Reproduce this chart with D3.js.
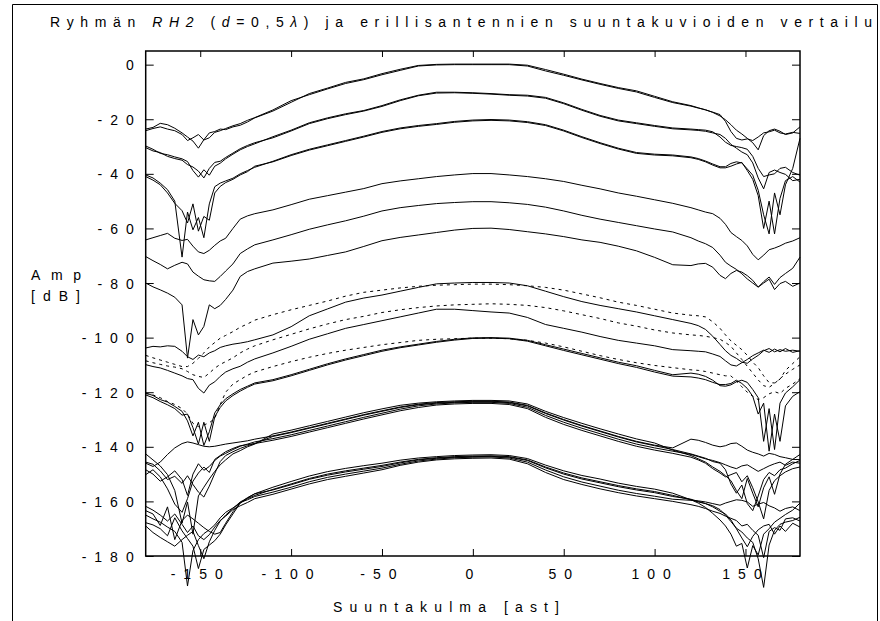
<!DOCTYPE html>
<html>
<head>
<meta charset="utf-8">
<script src="https://cdn.jsdelivr.net/npm/d3@7"></script>
<style>
  html, body { margin: 0; padding: 0; background: #fff; }
  svg { display: block; font-family: "Liberation Sans", Arial, sans-serif; }
</style>
</head>
<body>
<svg id="chart" width="880" height="621"></svg>
<script>
// Measurement angles (degrees), denser near the back lobes where the patterns break up
const angle = [-180,-176,-172,-168,-164,-160,-157,-154,-151,-148,-145,-142,-139,-136,-132,-128,-124,-120,
  -110,-100,-90,-80,-70,-60,-50,-40,-30,-20,-10,0,10,20,30,40,50,60,70,80,90,100,110,
  120,124,128,132,136,139,142,145,148,151,154,157,160,163,166,169,172,176,180];

const xTicks = [-150,-100,-50,0,50,100,150];
const yTicks = [0,-20,-40,-60,-80,-100,-120,-140,-160,-180];

// Amplitude patterns in dB (each offset downwards for readability)
const pattern00a = [-23.6,-23,-21.5,-22,-23.3,-25,-26.5,-28,-30.6,-27.5,-25,-24.5,-23.6,-23.8,-22.8,-22.2,-21,-19.5,
  -17,-13.8,-10.6,-8.6,-6.5,-5.2,-3.3,-1.7,-0.3,0.1,0.2,0.2,0.2,0.2,-0.2,-1.8,-3.5,-5.3,-6.9,-8.4,-9.6,-11.6,-13.6,
  -15,-15.8,-16.6,-17.4,-18.3,-20.8,-24.5,-27,-27.6,-27.2,-27.8,-26.5,-25,-24.6,-24,-25,-25.4,-24.8,-25.2];
const pattern00b = [-24.2,-23.4,-22.8,-23.6,-24.2,-25.6,-27.8,-26.8,-25.6,-27.6,-26.8,-24.8,-24.2,-23.4,-22.4,-21.6,-20.4,-19.4,
  -16.6,-13.2,-11,-8.9,-6.9,-5.5,-3.7,-2.1,-0.5,-0.1,0,0,0,0,-0.5,-2.3,-3.9,-5.6,-7.2,-8.7,-10,-12,-13.9,
  -15.2,-15.9,-16.5,-17.5,-18.8,-20.2,-22,-24,-25.4,-27,-28.6,-31.2,-26,-24.2,-23.6,-24.4,-25.6,-25,-22.8];
const pattern10a = [-29.8,-31,-32.5,-33,-33.8,-34.5,-35.5,-38.8,-41.2,-38.5,-40.5,-37.2,-36.1,-34.5,-32.8,-31.2,-30,-29,
  -26.4,-24,-21.3,-19.5,-18,-16.8,-15,-12.9,-11.2,-10.1,-10.1,-10.3,-10.6,-11,-11.2,-12,-14,-16.4,-18.6,-20.3,-21.3,-22.3,-23.2,
  -23.6,-23.8,-24,-24.6,-26.5,-28.4,-29.6,-30,-30.4,-31,-33.6,-38,-41,-40.4,-40,-38,-37.6,-39.5,-40.5];
const pattern10b = [-30.4,-31.6,-32.2,-33.6,-34.4,-35,-36.6,-37.5,-39,-41.5,-38,-35.8,-35.4,-34,-32.4,-30.8,-29.6,-28.6,
  -26.8,-24.3,-21.6,-19.8,-18.3,-17,-15.3,-13.2,-11.4,-10.4,-10.3,-10.5,-10.8,-11.2,-11.5,-12.3,-14.3,-16.7,-18.9,-20.6,-21.6,-22.6,-23.5,
  -23.9,-24.1,-24.4,-25,-25.6,-27,-29.2,-30.6,-32,-33,-36,-41.5,-45.5,-39.5,-38.6,-39.5,-40.2,-42.5,-42];
const pattern20a = [-40.4,-41.5,-43.4,-45.8,-50,-70.5,-54,-60.5,-56,-63.4,-51,-44.7,-43.4,-42.6,-41.6,-40,-38.8,-37.6,
  -35.4,-33,-31,-29.4,-27.8,-26.2,-24.5,-23.2,-22.3,-21.6,-20.8,-20.3,-20.1,-20.3,-20.9,-22,-24,-26.4,-28.6,-30.6,-32.2,-32.8,-33.1,
  -33.8,-34.4,-35.3,-36.4,-37.4,-37.4,-36.2,-35.6,-36,-38.2,-40.5,-46,-55,-62,-47,-55,-44,-38,-27];
const pattern20b = [-41,-42.3,-44,-47,-50.8,-53.5,-58,-51,-61,-55.6,-57,-47,-44.6,-43.2,-42,-40.4,-39.2,-37.2,
  -35.6,-33.3,-31.3,-29.7,-28.1,-26.5,-24.8,-23.5,-22.6,-21.9,-21.1,-20.6,-20.4,-20.6,-21.2,-22.3,-24.3,-26.7,-28.9,-30.9,-32.5,-33.1,-33.4,
  -34.1,-34.7,-35.6,-36.8,-37.8,-37.8,-37.2,-36.4,-35.8,-38.8,-42,-48,-60,-50,-62,-49,-42.5,-41,-43];
const pattern40 = [-64.2,-63.4,-62.6,-61.8,-63.6,-64.4,-64,-66.5,-68.6,-69.2,-68,-66.2,-64.6,-63.6,-60,-56.6,-55.4,-54.6,
  -53.2,-51.3,-49.3,-48,-46.7,-45.4,-43.6,-42.6,-41.8,-41,-40.4,-39.9,-39.9,-40.4,-41,-41.8,-42.8,-44.2,-45.5,-47,-48.2,-49.5,-50.8,
  -52.4,-53.2,-54,-54.6,-56.3,-58.5,-61.5,-63,-64.4,-66.4,-69.5,-71.5,-69.8,-67.8,-67.2,-66.4,-65.4,-64.6,-63.4];
const pattern50 = [-70.3,-71.8,-73.2,-74.8,-73.5,-72.4,-73,-76,-77.5,-78.8,-79.2,-79.4,-77.6,-75.6,-73,-69.2,-67.5,-66,
  -64.2,-62.3,-60.3,-58.7,-57.2,-55.5,-53.6,-52.4,-51.6,-50.9,-50.5,-50.2,-50.2,-50.6,-51.2,-52.2,-53.6,-55.2,-56.6,-57.8,-59,-60.2,-61.3,
  -63.4,-64.6,-65.6,-67,-69.8,-72.4,-73.8,-75,-76.6,-78.5,-80,-81.5,-79.5,-77.8,-80.5,-78,-76.5,-74.6,-70.5];
const pattern60 = [-80,-81.4,-82.5,-83.7,-85.2,-88,-107.5,-93.4,-99,-95.9,-88,-89.4,-88.2,-86,-82.6,-77.6,-75.8,-74.8,
  -72.7,-72,-71.2,-69.9,-68.6,-66.6,-64.5,-63.3,-62.4,-61.5,-60.6,-60,-59.9,-60.4,-61.2,-62,-63,-64.2,-65.1,-66.5,-68.2,-70.6,-73.3,
  -73.6,-73,-72.8,-74.2,-77.2,-78.4,-76.5,-75.4,-76,-77.3,-79,-81.5,-80,-78.6,-82.4,-80.2,-79.4,-81.2,-80];
const pattern80 = [-103.8,-103.2,-103.4,-103,-103.2,-105,-107,-108,-106.4,-107,-105.6,-104.8,-103.6,-103,-102.4,-102,-101.5,-100.8,
  -99,-96,-92,-89.5,-87,-85.5,-84.4,-83,-81.6,-80.3,-80,-79.8,-79.8,-80,-81,-83,-85,-86.8,-88.2,-89.4,-90.6,-92,-93.4,
  -94.8,-95.6,-97,-99.5,-102.5,-104.8,-106.5,-107.6,-109,-109.4,-107.8,-106.5,-104.8,-104,-105.2,-104.4,-105,-104.6,-105];
const pattern80dot = [-106.5,-107.4,-108.2,-109,-109.8,-110.6,-110.6,-109.4,-107.6,-105.6,-103.4,-101.8,-100.2,-99.2,-97.8,-96.2,-95,-93.6,
  -91.6,-89.8,-88.2,-86.6,-84.8,-83.4,-82.6,-81.8,-81.2,-80.8,-80.6,-80.4,-80.4,-80.6,-81,-81.6,-82.6,-84,-85.4,-87,-88.2,-89.6,-91,
  -91.8,-92,-92.4,-94.2,-96.6,-99,-101.2,-102.8,-104.4,-106.5,-109,-111,-114,-116.5,-116.6,-115.2,-112,-109.5,-107];
const pattern90 = [-109.9,-110.6,-111.1,-112,-113,-114,-115,-115.4,-118.6,-120.3,-117.4,-116.2,-114.2,-112.6,-111.4,-110.5,-109,-107.8,
  -105.6,-103.2,-100.6,-98.6,-96.6,-95.2,-93.8,-92.4,-91,-89.6,-89.6,-90.1,-90.6,-91,-92.6,-95.2,-96.6,-98,-99.6,-101,-102,-103,-104.4,
  -104.8,-105,-105.2,-106,-106.9,-108.5,-110,-110.4,-109.2,-108,-106.6,-105.6,-104.6,-105.4,-104.2,-105.2,-104,-105.4,-104.8];
const pattern90dot = [-108.5,-109.2,-109.8,-110.4,-110.8,-111.4,-112.4,-113.6,-114.2,-114.6,-113,-111.2,-109.8,-108.8,-107.4,-105.6,-104.2,-103,
  -100.8,-98.8,-96.8,-95,-93.4,-92.2,-90.8,-89.8,-89,-88.4,-88,-87.8,-87.6,-87.8,-88.2,-89,-90.2,-91.6,-93,-94.6,-95.8,-97.2,-98.3,
  -99,-99.2,-99.5,-100,-100.6,-101.8,-103.2,-105.6,-108,-110.5,-113,-115.5,-117.6,-118.2,-116.8,-115,-113.4,-111.6,-110];
const pattern100a = [-120.3,-121.2,-122.7,-123.6,-125.2,-127,-130.5,-136,-131,-139.5,-134.5,-127.6,-124.6,-122.4,-120.6,-119,-117.8,-116.6,
  -115.4,-113.6,-111.6,-109.6,-107.8,-106.2,-104.6,-103.4,-102.4,-101.4,-100.6,-100.1,-100,-100.2,-101,-102.6,-104.2,-105.8,-107.4,-109,-110.3,-112,-113.6,
  -113,-113.4,-114.2,-115.6,-117.6,-117.8,-117.3,-116.2,-115.6,-116.4,-119,-122,-138,-126,-141,-124,-120.3,-118,-115.4];
const pattern100b = [-121,-122,-123.4,-124.6,-126,-128.4,-128,-133,-139,-131,-138,-129,-125.6,-123.2,-121.2,-119.6,-118.2,-117,
  -115.8,-114,-112,-110,-108.2,-106.6,-105,-103.7,-102.7,-101.7,-100.9,-100.3,-100.2,-100.4,-101.3,-103,-104.7,-106.3,-107.9,-109.5,-110.9,-112.6,-114.1,
  -114.4,-114.8,-115.4,-116.4,-117.2,-117.2,-116.8,-115.6,-116.8,-118.6,-121.5,-128,-124,-141.6,-128,-138,-125,-121.5,-119.8];
const pattern100dot = [-120.5,-121,-122,-123.4,-124.5,-126,-128,-131.4,-132.6,-132,-131.2,-129.6,-124.5,-120,-117,-115.4,-113.8,-112.6,
  -110.6,-108.8,-107.2,-105.8,-104.6,-103.6,-102.6,-101.8,-101,-100.6,-100.4,-100.2,-100.2,-100.4,-101,-102,-103.4,-105,-106.6,-108,-109.2,-110.2,-111,
  -111.8,-112,-112.4,-113,-113.6,-114,-114,-116,-118,-120,-121.5,-122.7,-122,-120.6,-119.8,-120.5,-118.6,-117,-115];
const pattern123a = [-146,-147.2,-145.6,-142.8,-140.4,-138.8,-138.2,-138.6,-139.2,-139.8,-140,-139.8,-139.4,-139,-138.6,-138.2,-137.8,-137.2,
  -136,-134.6,-133,-131.4,-129.8,-128.2,-126.8,-125.4,-124.4,-123.8,-123.5,-123.3,-123.3,-123.6,-124.8,-127.6,-130,-132.2,-134.2,-136.2,-138,-139.4,-140.4,
  -137.2,-137.6,-138.4,-139.4,-140,-139.6,-138.8,-138.6,-139.8,-141.2,-142,-142.6,-143.4,-142.4,-142.8,-143.6,-144,-144.6,-144.7];
const pattern123b = [-148.4,-150,-152.6,-151,-148.8,-152,-157.8,-150,-146.2,-148.6,-147.2,-145,-143.4,-142.4,-141,-139.8,-139,-138.2,
  -137,-135.6,-134,-132.4,-130.8,-129.2,-127.7,-126.2,-125,-124.3,-123.9,-123.7,-123.7,-124.1,-125.5,-128.5,-131,-133.2,-135.2,-137.2,-139,-140.4,-141.6,
  -142.8,-143.6,-144.4,-145,-145.8,-146.6,-147.4,-148,-147,-146.6,-147.8,-149,-148,-147,-146.2,-145.6,-146.8,-145.6,-146];
const pattern123c = [-142.6,-144.8,-147,-150.2,-156,-168,-160.2,-172,-158,-154.8,-151.8,-149,-146.6,-144.8,-142.6,-141.4,-140,-139,
  -135.3,-133.9,-132.3,-130.7,-129.1,-127.5,-126.1,-124.8,-124,-123.5,-123.2,-123,-123,-123.2,-124.3,-127,-129.3,-131.4,-133.4,-135.3,-137.1,-138.6,-141.2,
  -143.2,-144.4,-145.6,-147.4,-149,-150.6,-152.4,-156,-159,-151.6,-157,-162,-155,-151,-157.4,-150,-146.4,-144.6,-142.8];
const pattern123d = [-150.2,-148.4,-151,-155.4,-161,-164,-159,-152.6,-149.6,-147.4,-149.4,-144.6,-143.2,-141.8,-140.6,-139.6,-139.2,-138.8,
  -137.6,-136.2,-134.6,-133,-131.4,-129.8,-128.3,-126.8,-125.6,-124.7,-124.3,-124.1,-124.1,-124.5,-126,-129.2,-131.8,-134,-136,-138,-139.8,-141.2,-142.4,
  -143.8,-144.8,-146,-148,-149.6,-151,-150.2,-149.4,-152.8,-150.6,-155,-160.2,-166.4,-156,-152.4,-150.6,-149.2,-148,-147.4];
const pattern123e = [-145.6,-146.4,-148.8,-152,-150.8,-153.4,-150.6,-153.8,-156.6,-158.4,-154.4,-149.8,-145.4,-143.2,-141.8,-140.6,-139.6,-138.8,
  -136.2,-134.8,-133.2,-131.6,-130,-128.4,-127,-125.6,-124.6,-124,-123.7,-123.5,-123.5,-123.8,-125,-127.8,-130.2,-132.4,-134.4,-136.4,-138.2,-139.6,-141,
  -142.6,-143.4,-144.2,-145.4,-146,-148.4,-153.6,-157,-154,-160.8,-163.4,-158,-152,-149.4,-150.6,-148.4,-147.8,-146.2,-145];
const pattern143a = [-165,-166.4,-167.6,-169.4,-171,-175,-191,-178,-174,-171.8,-170.4,-168.6,-166,-164,-162.4,-160.6,-159,-157.8,
  -155.6,-153.6,-151.6,-150,-148.8,-147.8,-146.8,-145.6,-144.6,-144,-143.6,-143.4,-143.3,-143.6,-144.8,-147.4,-149.6,-151.4,-152.8,-154.2,-155.4,-156.4,-157.8,
  -159.4,-160.2,-160.8,-161.6,-163,-165,-167.4,-169.8,-171.2,-173.4,-175,-181,-191.5,-176,-170.6,-168.4,-167.6,-167,-165.8];
const pattern143b = [-163.4,-164.6,-168.8,-162,-174,-167,-165,-166.4,-168,-169.6,-171,-172,-171.4,-168,-163.8,-160.4,-159.4,-158.2,
  -156.6,-154.8,-152.8,-151.2,-150,-148.9,-147.8,-146.4,-145.2,-144.5,-144,-143.8,-143.7,-144.1,-145.6,-148.5,-151,-152.9,-154.4,-155.9,-157.1,-158.1,-159.2,
  -159.6,-159.8,-160.2,-160.8,-161.4,-160.6,-160,-159.4,-159.6,-160.2,-161.8,-161,-160.4,-161.6,-162.4,-163.6,-162.6,-162,-163.4];
const pattern143c = [-167.8,-168.6,-170,-172.6,-166,-170.8,-173.6,-176.4,-184.6,-177.6,-176,-174.4,-172,-168.6,-164.6,-160.6,-158.6,-157.2,
  -154.8,-152.7,-150.7,-149.1,-147.9,-146.9,-146,-144.9,-144.1,-143.6,-143.2,-143,-142.9,-143.2,-144.3,-146.7,-148.8,-150.5,-151.8,-153.3,-154.5,-155.5,-157,
  -159.4,-160.6,-162.2,-164.4,-166.8,-169,-172,-176.4,-175.4,-184.4,-176.2,-179.6,-172,-170,-167.6,-166.2,-164.8,-163.2,-160.6];
const pattern143d = [-161.8,-163.2,-165,-167.2,-164.6,-168.4,-171.4,-169,-172.6,-174,-172.2,-169.4,-167,-165.4,-163,-161.6,-160.4,-159,
  -157.4,-155.5,-153.6,-152,-150.8,-149.6,-148.4,-146.8,-145.6,-144.8,-144.4,-144.2,-144.1,-144.5,-146.2,-149.4,-152,-153.8,-155.4,-156.8,-158,-159,-160,
  -161.2,-161.8,-162.6,-163.6,-164.4,-165.4,-166.2,-167,-169,-168.4,-170.6,-172.4,-180.6,-171,-169.6,-170.6,-166.4,-166,-167.2];
const pattern143e = [-169,-171.4,-173.2,-174.8,-176.4,-174,-172.4,-171,-176.2,-181,-174.8,-170.6,-167.2,-165,-162.6,-160.2,-158.8,-157.2,
  -155.8,-153.9,-151.9,-150.4,-149.2,-148.2,-147.2,-145.9,-144.8,-144.2,-143.8,-143.6,-143.5,-143.8,-145,-147.7,-150,-151.8,-153.2,-154.6,-155.8,-156.8,-158.2,
  -159.2,-160,-160.8,-162,-163.6,-164.6,-166.8,-170,-173.4,-176.6,-172.8,-170.4,-169,-168.4,-172,-169,-171,-168,-169.4];

// Solid traces and the dotted reference traces
const solidSeries = [pattern00a, pattern00b, pattern10a, pattern10b, pattern20a, pattern20b,
  pattern40, pattern50, pattern60, pattern80, pattern90, pattern100a, pattern100b,
  pattern123a, pattern123b, pattern123c, pattern123d, pattern123e,
  pattern143a, pattern143b, pattern143c, pattern143d, pattern143e];
const dottedSeries = [pattern80dot, pattern90dot, pattern100dot];

const svg = d3.select("#chart");
const x = d3.scaleLinear().domain([-180, 180]).range([145.7, 800]);
const y = d3.scaleLinear().domain([-180, 5]).range([556, 51]);

const FONT = 14, SPACING = 8;

// Outer figure border
svg.append("path")
  .attr("d", "M12.5,621 V4.5 H877.5 V621")
  .attr("fill", "none").attr("stroke", "#000").attr("stroke-width", 1);

// Inward tick marks on all four sides
const styleAxis = g => {
  g.select(".domain").remove();
  g.selectAll(".tick line").attr("stroke", "#000").attr("stroke-width", 1);
  g.selectAll("text")
    .attr("fill", "#000")
    .style("font-size", FONT + "px")
    .style("letter-spacing", SPACING + "px")
    .style("font-family", '"Liberation Sans", Arial, sans-serif');
};

svg.append("g").attr("transform", `translate(${x.range()[0]},0)`)
  .call(d3.axisLeft(y).tickValues(yTicks).tickSize(-8).tickPadding(4).tickFormat(d => String(d)))
  .call(styleAxis)
  .call(g => g.selectAll("text").attr("dy", "0.36em"));

svg.append("g").attr("transform", `translate(${x.range()[1]},0)`)
  .call(d3.axisRight(y).tickValues(yTicks).tickSize(-8).tickFormat(""))
  .call(styleAxis);

svg.append("g").attr("transform", `translate(0,${y.range()[1]})`)
  .call(d3.axisTop(x).tickValues(xTicks).tickSize(-6).tickFormat(""))
  .call(styleAxis);

svg.append("g").attr("transform", `translate(0,${y.range()[0]})`)
  .call(d3.axisBottom(x).tickValues(xTicks).tickSize(-7).tickFormat(d => String(d)))
  .call(styleAxis)
  .call(g => g.selectAll("text").attr("y", 23).attr("dy", 0));

// Plot frame
svg.append("rect")
  .attr("x", x.range()[0]).attr("y", y.range()[1])
  .attr("width", x.range()[1] - x.range()[0])
  .attr("height", y.range()[0] - y.range()[1])
  .attr("fill", "none").attr("stroke", "#000").attr("stroke-width", 1.5);

// Titles
const title = svg.append("text")
  .attr("x", 50).attr("y", 27)
  .attr("textLength", 822).attr("lengthAdjust", "spacing")
  .style("font-size", FONT + "px").attr("fill", "#000");
title.append("tspan").text("Ryhmän ");
title.append("tspan").style("font-style", "italic").text("RH2");
title.append("tspan").text(" (");
title.append("tspan").style("font-style", "italic").text("d");
title.append("tspan").text("=0,5");
title.append("tspan").style("font-style", "italic").text("λ");
title.append("tspan").text(") ja erillisantennien suuntakuvioiden vertailu");

svg.append("text").attr("x", 31).attr("y", 280)
  .attr("textLength", 50).attr("lengthAdjust", "spacing")
  .style("font-size", FONT + "px").attr("fill", "#000").text("Amp");
svg.append("text").attr("x", 31).attr("y", 301)
  .attr("textLength", 49).attr("lengthAdjust", "spacing")
  .style("font-size", FONT + "px").attr("fill", "#000").text("[dB]");

svg.append("text").attr("x", 333).attr("y", 612)
  .attr("textLength", 226).attr("lengthAdjust", "spacing")
  .style("font-size", FONT + "px").attr("fill", "#000").text("Suuntakulma [ast]");

// Pattern traces
const line = d3.line()
  .x((d, i) => x(angle[i]))
  .y(d => y(d));

const traces = svg.append("g").attr("fill", "none").attr("stroke", "#000")
  .attr("stroke-linejoin", "round");

traces.selectAll("path.solid").data(solidSeries).join("path")
  .attr("class", "solid")
  .attr("stroke-width", 1)
  .attr("d", line);

traces.selectAll("path.dotted").data(dottedSeries).join("path")
  .attr("class", "dotted")
  .attr("stroke-width", 1)
  .attr("stroke-dasharray", "3,4")
  .attr("d", line);
</script>
</body>
</html>
